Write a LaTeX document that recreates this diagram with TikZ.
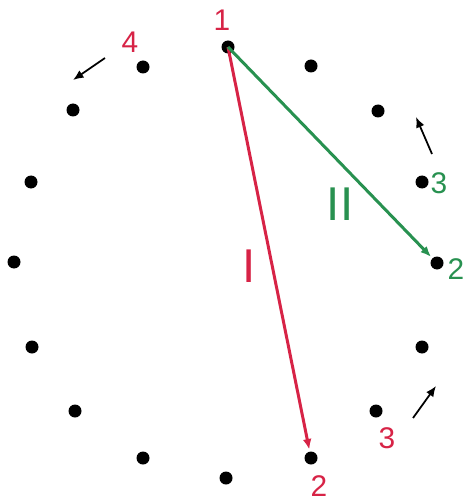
\documentclass[tikz,border=0pt]{standalone}
\usepackage{fontspec}
\setmainfont{Liberation Sans}
\usetikzlibrary{arrows.meta}
\definecolor{myred}{RGB}{215,35,70}
\definecolor{mygreen}{RGB}{40,145,80}
\begin{document}
\begin{tikzpicture}[x=0.02cm,y=-0.02cm,
  dot/.style={circle,fill=black,inner sep=0pt,minimum size=13*0.02cm},
  lab/.style={font=\fontsize{17}{17}\selectfont,inner sep=0pt},
  roman/.style={font=\fontsize{27}{27}\selectfont,inner sep=0pt},
  chord/.style={line width=1.7pt,-{Latex[length=6pt,width=5pt]},shorten >=1pt},
  hint/.style={line width=1pt,-{Latex[length=6pt,width=5pt]}}]
\useasboundingbox (0,0) rectangle (464,503);
\node[dot] (d1) at (228,47) {};
\node[dot] (d2) at (311,66) {};
\node[dot] (d3) at (378,111) {};
\node[dot] (d4) at (422,182) {};
\node[dot] (d5) at (437,263) {};
\node[dot] (d6) at (422,347) {};
\node[dot] (d7) at (376,411) {};
\node[dot] (d8) at (311,458) {};
\node[dot] (d9) at (226,478) {};
\node[dot] (d10) at (143,458) {};
\node[dot] (d11) at (75,411) {};
\node[dot] (d12) at (32,347) {};
\node[dot] (d13) at (14,262) {};
\node[dot] (d14) at (31,182) {};
\node[dot] (d15) at (73,110) {};
\node[dot] (d16) at (143,67) {};
\draw[chord,myred] (d1.center) -- (d8);
\draw[chord,mygreen] (d1.center) -- (d5);
\node[lab,text=myred] (l1) at (222,20) {1};
\node[lab,text=myred] (l2) at (319,486) {2};
\node[lab,text=myred] (l3) at (387,438) {3};
\node[lab,text=myred] (l4) at (130,42) {4};
\node[lab,text=mygreen] (g3) at (439,183) {3};
\node[lab,text=mygreen] (g2) at (456,269) {2};
\node[roman,text=myred] (r1) at (249,266) {I};
\node[roman,text=mygreen] (r2) at (340,204) {II};
\coordinate (a4s) at (105,58);
\coordinate (a4e) at (73,80);
\coordinate (g3s) at (432,154);
\coordinate (g3e) at (416,117);
\coordinate (r3s) at (413,418);
\coordinate (r3e) at (436,386);
\draw[hint] (a4s) -- (a4e);
\draw[hint] (g3s) -- (g3e);
\draw[hint] (r3s) -- (r3e);
\end{tikzpicture}
\end{document}
